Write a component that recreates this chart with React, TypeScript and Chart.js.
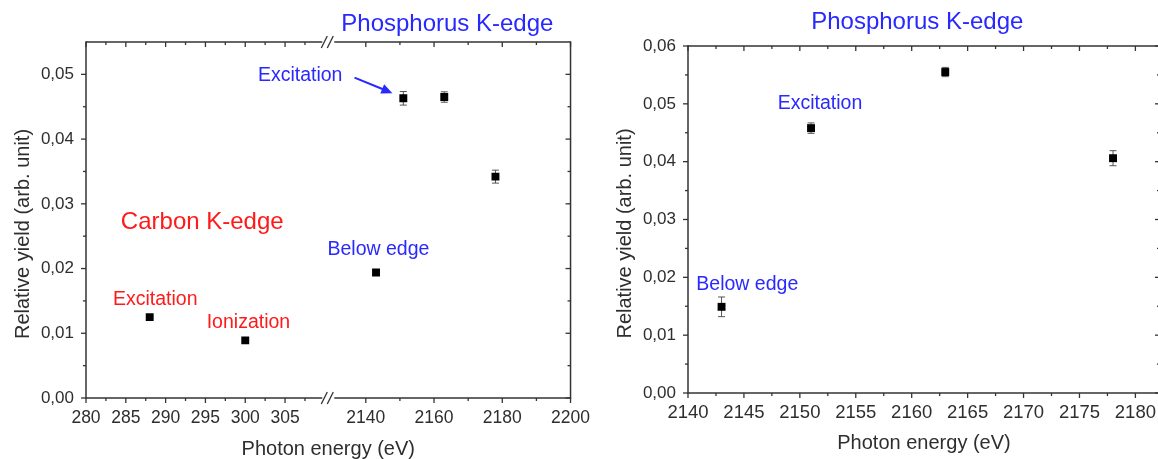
import React, { useEffect, useRef } from 'react';
import { Chart, registerables, LinearScale } from 'chart.js';

Chart.register(...registerables);

// ---------------- data: left panel (broken energy axis) ----------------
const leftEnergy = [288, 300, 2143, 2151, 2163, 2178];
const leftYield = [0.0125, 0.0089, 0.0194, 0.0463, 0.0465, 0.0342];
const leftYieldErr = [0, 0, 0, 0.00105, 0.0008, 0.001];
const leftXTicks = [280, 285, 290, 295, 300, 305, 2140, 2160, 2180, 2200];
const leftXMinor = [282.5, 287.5, 292.5, 297.5, 302.5, 307.5, 2150, 2170, 2190];
const leftYTicks = [0, 0.01, 0.02, 0.03, 0.04, 0.05];
const leftYMinor = [0.005, 0.015, 0.025, 0.035, 0.045];
const leftBreak = [310, 2130];

// ---------------- data: right panel ----------------
const rightEnergy = [2143, 2151, 2163, 2178];
const rightYield = [0.0149, 0.0458, 0.0555, 0.0406];
const rightYieldErr = [0.0017, 0.0009, 0.0008, 0.0013];
const rightXTicks = [2140, 2145, 2150, 2155, 2160, 2165, 2170, 2175, 2180];
const rightXMinor = [2142.5, 2147.5, 2152.5, 2157.5, 2162.5, 2167.5, 2172.5, 2177.5];
const rightYTicks = [0, 0.01, 0.02, 0.03, 0.04, 0.05, 0.06];
const rightYMinor = [0.005, 0.015, 0.025, 0.035, 0.045, 0.055];

// annotations (anchored in data coordinates)
const leftNotes = [
  { text: 'Phosphorus K-edge', x: 2163.9, y: 0.0577, color: 'rgb(40,40,255)', size: 24 },
  { text: 'Carbon K-edge', x: 294.6, y: 0.0271, color: 'rgb(255,25,25)', size: 24 },
  { text: 'Excitation', x: 288.7, y: 0.0152, color: 'rgb(255,25,25)', size: 19.5 },
  { text: 'Ionization', x: 300.4, y: 0.0117, color: 'rgb(255,25,25)', size: 19.5 },
  { text: 'Below edge', x: 2143.7, y: 0.0229, color: 'rgb(40,40,255)', size: 19.5 },
  { text: 'Excitation', x: 306.9, y: 0.0498, color: 'rgb(40,40,255)', size: 19.5 },
];
const leftArrows = [{ x1: 2136.7, y1: 0.0495, x2: 2147.8, y2: 0.0471, color: 'rgb(40,40,255)' }];
const rightNotes = [
  { text: 'Phosphorus K-edge', x: 2160.5, y: 0.0641, color: 'rgb(40,40,255)', size: 24 },
  { text: 'Excitation', x: 2151.8, y: 0.05, color: 'rgb(40,40,255)', size: 19.5 },
  { text: 'Below edge', x: 2145.3, y: 0.0188, color: 'rgb(40,40,255)', size: 19.5 },
];

const FONT = "'Liberation Sans', Arial, sans-serif";
const AXIS = '#333333';
const TEXT = '#2e2e2e';

// ---------------- broken linear scale ----------------
const SPLIT_LOW = 0.493;
const SPLIT_HIGH = 0.507;
class BrokenLinearScale extends LinearScale {
  static id = 'brokenLinear';
  getPixelForValue(value: number) {
    const min = this.min as number;
    const max = this.max as number;
    const [lo, hi] = leftBreak;
    let f: number;
    if (value <= lo) f = ((value - min) / (lo - min)) * SPLIT_LOW;
    else if (value >= hi) f = SPLIT_HIGH + ((value - hi) / (max - hi)) * (1 - SPLIT_HIGH);
    else f = SPLIT_LOW + ((value - lo) / (hi - lo)) * (SPLIT_HIGH - SPLIT_LOW);
    return this.getPixelForDecimal(f);
  }
  getValueForPixel(pixel: number) {
    const min = this.min as number;
    const max = this.max as number;
    const [lo, hi] = leftBreak;
    const f = this.getDecimalForPixel(pixel);
    if (f <= SPLIT_LOW) return min + (f / SPLIT_LOW) * (lo - min);
    if (f >= SPLIT_HIGH) return hi + ((f - SPLIT_HIGH) / (1 - SPLIT_HIGH)) * (max - hi);
    return lo + ((f - SPLIT_LOW) / (SPLIT_HIGH - SPLIT_LOW)) * (hi - lo);
  }
}
Chart.register(BrokenLinearScale as any);

type Note = { text: string; x: number; y: number; color: string; size: number };
type Arrow = { x1: number; y1: number; x2: number; y2: number; color: string };

function makeDecor(cfg: {
  xMajor: number[]; xMinor: number[]; yMajor: number[]; yMinor: number[];
  brk?: number[]; notes: Note[]; arrows: Arrow[]; err: number[]; xs: number[]; ys: number[];
}) {
  return {
    id: 'decor',
    beforeDatasetsDraw(chart: any) {
      const { ctx, scales } = chart;
      const x = scales.x, y = scales.y;
      ctx.save();
      ctx.strokeStyle = '#555';
      ctx.lineWidth = 1;
      cfg.xs.forEach((xv, i) => {
        const e = cfg.err[i];
        if (!e) return;
        const px = x.getPixelForValue(xv);
        const t = y.getPixelForValue(cfg.ys[i] + e);
        const b = y.getPixelForValue(cfg.ys[i] - e);
        ctx.beginPath();
        ctx.moveTo(px, t); ctx.lineTo(px, b);
        ctx.moveTo(px - 3.5, t); ctx.lineTo(px + 3.5, t);
        ctx.moveTo(px - 3.5, b); ctx.lineTo(px + 3.5, b);
        ctx.stroke();
      });
      ctx.restore();
    },
    afterDraw(chart: any) {
      const { ctx, chartArea: a, scales } = chart;
      const x = scales.x, y = scales.y;
      ctx.save();
      ctx.strokeStyle = AXIS;
      ctx.lineWidth = 1.5;
      const line = (x1: number, y1: number, x2: number, y2: number) => {
        ctx.beginPath(); ctx.moveTo(x1, y1); ctx.lineTo(x2, y2); ctx.stroke();
      };
      // frame
      line(a.left, a.top - 0.75, a.left, a.bottom + 0.75);
      line(a.right, a.top - 0.75, a.right, a.bottom + 0.75);
      if (cfg.brk) {
        const bx = (x.getPixelForValue(cfg.brk[0]) + x.getPixelForValue(cfg.brk[1])) / 2;
        for (const yy of [a.top, a.bottom]) {
          line(a.left, yy, bx - 6, yy);
          line(bx + 6, yy, a.right, yy);
          ctx.lineWidth = 1.3;
          line(bx - 7, yy + 6, bx - 1, yy - 6);
          line(bx - 1, yy + 6, bx + 5, yy - 6);
          ctx.lineWidth = 1.5;
        }
      } else {
        line(a.left, a.top, a.right, a.top);
        line(a.left, a.bottom, a.right, a.bottom);
      }
      // ticks
      ctx.lineWidth = 1.3;
      const xt = (vals: number[], len: number) => vals.forEach((v) => {
        const px = x.getPixelForValue(v);
        line(px, a.bottom, px, a.bottom + len);
        line(px, a.top, px, a.top + len);
      });
      const yt = (vals: number[], len: number) => vals.forEach((v) => {
        const py = y.getPixelForValue(v);
        line(a.left, py, a.left - len, py);
        line(a.right, py, a.right - len, py);
      });
      xt(cfg.xMajor, 5); xt(cfg.xMinor, 3);
      yt(cfg.yMajor, 5); yt(cfg.yMinor, 3);
      // y title
      ctx.save();
      ctx.translate(a.left - 63, (a.top + a.bottom) / 2 + 14);
      ctx.rotate(-Math.PI / 2);
      ctx.fillStyle = TEXT;
      ctx.font = `20px ${FONT}`;
      ctx.textAlign = 'center';
      ctx.textBaseline = 'middle';
      ctx.fillText('Relative yield (arb. unit)', 0, 0);
      ctx.restore();
      // annotations
      ctx.textAlign = 'center';
      ctx.textBaseline = 'middle';
      cfg.notes.forEach((n) => {
        ctx.fillStyle = n.color;
        ctx.font = `${n.size}px ${FONT}`;
        ctx.fillText(n.text, x.getPixelForValue(n.x), y.getPixelForValue(n.y));
      });
      // arrows
      cfg.arrows.forEach((ar) => {
        const x1 = x.getPixelForValue(ar.x1), y1 = y.getPixelForValue(ar.y1);
        const x2 = x.getPixelForValue(ar.x2), y2 = y.getPixelForValue(ar.y2);
        const ang = Math.atan2(y2 - y1, x2 - x1);
        const L = 11, W = 5;
        ctx.strokeStyle = ar.color;
        ctx.fillStyle = ar.color;
        ctx.lineWidth = 2;
        line(x1, y1, x2 - L * Math.cos(ang) * 0.8, y2 - L * Math.sin(ang) * 0.8);
        ctx.beginPath();
        ctx.moveTo(x2, y2);
        ctx.lineTo(x2 - L * Math.cos(ang) + W * Math.sin(ang), y2 - L * Math.sin(ang) - W * Math.cos(ang));
        ctx.lineTo(x2 - L * Math.cos(ang) - W * Math.sin(ang), y2 - L * Math.sin(ang) + W * Math.cos(ang));
        ctx.closePath();
        ctx.fill();
      });
      ctx.restore();
    },
  };
}

const yLabel = (v: any) => Number(v).toFixed(2).replace('.', ',');

function makeConfig(p: {
  xs: number[]; ys: number[]; err: number[]; xType: string; xMin: number; xMax: number;
  yMax: number; xTicks: number[]; xMinor: number[]; yTicks: number[]; yMinor: number[];
  brk?: number[]; notes: Note[]; arrows: Arrow[];
  padTop: number; padRight: number; yWidth: number; xHeight: number; xPad: number; titlePad: number;
  xFont: number;
}): any {
  return {
    type: 'scatter',
    data: {
      datasets: [{
        data: p.xs.map((xv, i) => ({ x: xv, y: p.ys[i] })),
        pointStyle: 'rect',
        pointRadius: 5.6,
        pointHoverRadius: 5.6,
        backgroundColor: '#000',
        borderColor: '#000',
        borderWidth: 0,
      }],
    },
    options: {
      animation: false,
      responsive: false,
      maintainAspectRatio: false,
      layout: { padding: { top: p.padTop, right: p.padRight, left: 0, bottom: 0 } },
      plugins: { legend: { display: false }, tooltip: { enabled: false } },
      scales: {
        x: {
          type: p.xType,
          min: p.xMin,
          max: p.xMax,
          afterBuildTicks: (s: any) => { s.ticks = p.xTicks.map((v) => ({ value: v })); },
          afterFit: (s: any) => { s.height = p.xHeight; },
          grid: { display: false, drawTicks: false },
          border: { display: false },
          ticks: {
            autoSkip: false, maxRotation: 0, minRotation: 0, padding: p.xPad,
            color: TEXT, font: { family: FONT, size: p.xFont },
            callback: (v: any) => String(v),
          },
          title: {
            display: true, text: 'Photon energy (eV)', color: TEXT,
            font: { family: FONT, size: 20, lineHeight: 1 },
            padding: { top: 0, bottom: p.titlePad },
          },
        },
        y: {
          type: 'linear',
          min: 0,
          max: p.yMax,
          afterBuildTicks: (s: any) => { s.ticks = p.yTicks.map((v) => ({ value: v })); },
          afterFit: (s: any) => { s.width = p.yWidth; },
          grid: { display: false, drawTicks: false },
          border: { display: false },
          ticks: {
            autoSkip: false, padding: 12, color: TEXT,
            font: { family: FONT, size: 17 }, callback: yLabel,
          },
        },
      },
    },
    plugins: [makeDecor({
      xMajor: p.xTicks, xMinor: p.xMinor, yMajor: p.yTicks, yMinor: p.yMinor,
      brk: p.brk, notes: p.notes, arrows: p.arrows, err: p.err, xs: p.xs, ys: p.ys,
    })],
  };
}

export default function App() {
  const leftRef = useRef<HTMLCanvasElement>(null);
  const rightRef = useRef<HTMLCanvasElement>(null);
  useEffect(() => {
    const c1 = new Chart(leftRef.current as HTMLCanvasElement, makeConfig({
      xs: leftEnergy, ys: leftYield, err: leftYieldErr, xType: 'brokenLinear',
      xMin: 280, xMax: 2200, yMax: 0.055,
      xTicks: leftXTicks, xMinor: leftXMinor, yTicks: leftYTicks, yMinor: leftYMinor,
      brk: leftBreak, notes: leftNotes, arrows: leftArrows,
      padTop: 42, padRight: 29, yWidth: 86, xHeight: 61, xPad: 10, titlePad: 0, xFont: 17.5,
    }));
    const c2 = new Chart(rightRef.current as HTMLCanvasElement, makeConfig({
      xs: rightEnergy, ys: rightYield, err: rightYieldErr, xType: 'linear',
      xMin: 2140, xMax: 2182.2, yMax: 0.06,
      xTicks: rightXTicks, xMinor: rightXMinor, yTicks: rightYTicks, yMinor: rightYMinor,
      notes: rightNotes, arrows: [],
      padTop: 46, padRight: 10, yWidth: 88, xHeight: 66, xPad: 9, titlePad: 6, xFont: 18.5,
    }));
    return () => { c1.destroy(); c2.destroy(); };
  }, []);
  return (
    <div style={{ position: 'fixed', left: 0, top: 0, width: 1158, height: 459, overflow: 'hidden', background: '#fff' }}>
      <canvas ref={leftRef} width={600} height={459} style={{ position: 'absolute', left: 0, top: 0 }} />
      <canvas ref={rightRef} width={570} height={459} style={{ position: 'absolute', left: 600, top: 0 }} />
    </div>
  );
}
